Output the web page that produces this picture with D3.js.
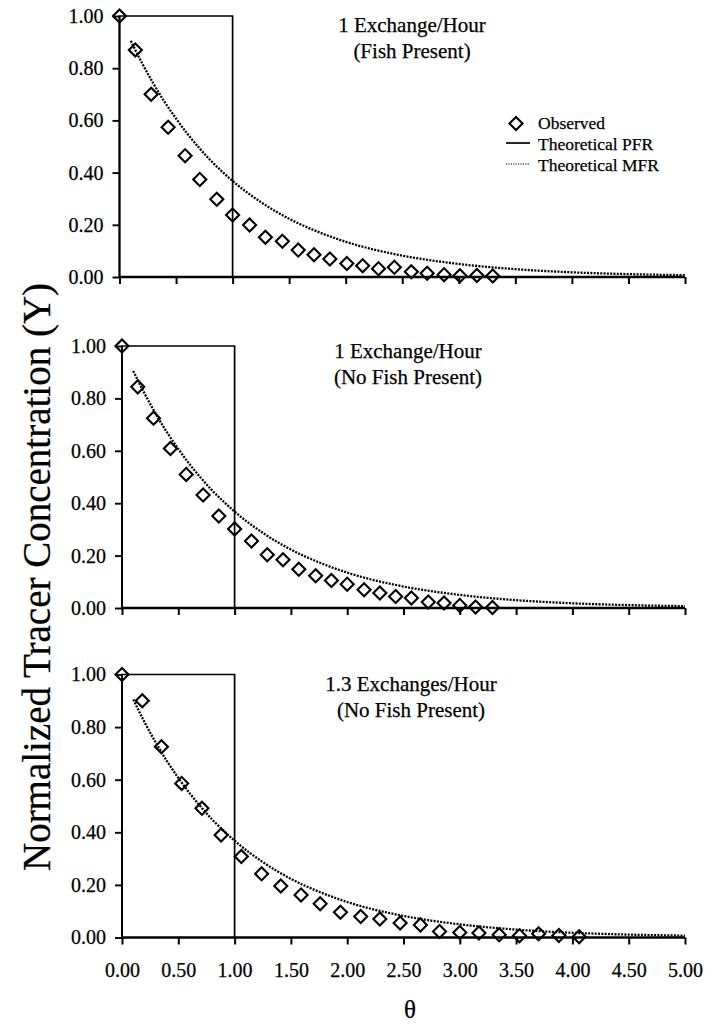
<!DOCTYPE html>
<html><head><meta charset="utf-8">
<script src="https://cdn.jsdelivr.net/npm/d3@7"></script>
<style>
html,body{margin:0;padding:0;background:#fff;}
svg text{font-family:"Liberation Serif","Times New Roman",serif;fill:#000;stroke:#000;stroke-width:0.25px;}
</style>
</head><body>
<svg id="chart" width="705" height="1024"></svg>
<script>
// ---- data ----
const theta1 = [0,0.14,0.28,0.43,0.58,0.71,0.86,1.00,1.15,1.29,1.44,1.58,1.72,1.86,2.01,2.15,2.29,2.43,2.58,2.72,2.87,3.01,3.16,3.30];
const obs1   = [1.00,0.87,0.70,0.574,0.465,0.374,0.298,0.238,0.199,0.152,0.137,0.103,0.085,0.069,0.052,0.043,0.032,0.037,0.020,0.014,0.009,0.005,0.006,0.004];
const theta2 = [0,0.14,0.28,0.43,0.57,0.72,0.86,1.00,1.15,1.29,1.43,1.57,1.72,1.86,2.00,2.15,2.29,2.43,2.57,2.72,2.86,3.00,3.14,3.29];
const obs2   = [1.00,0.844,0.724,0.609,0.510,0.431,0.351,0.302,0.256,0.203,0.184,0.148,0.123,0.105,0.091,0.070,0.057,0.044,0.038,0.023,0.019,0.010,0.004,0.002];
const theta3 = [0,0.18,0.35,0.53,0.71,0.88,1.06,1.24,1.41,1.59,1.76,1.94,2.12,2.29,2.47,2.65,2.82,3.00,3.17,3.35,3.53,3.70,3.88,4.06];
const obs3   = [1.00,0.90,0.725,0.586,0.491,0.390,0.308,0.242,0.196,0.162,0.128,0.096,0.080,0.070,0.055,0.048,0.023,0.019,0.017,0.010,0.007,0.014,0.008,0.003];
// theoretical curves
const mfrTheta = [0.1,0.2,0.3,0.4,0.5,0.6,0.7,0.8,0.9,1.0,1.25,1.5,1.75,2.0,2.5,3.0,3.5,4.0,4.5,5.0];
const mfrY     = [0.905,0.819,0.741,0.670,0.607,0.549,0.497,0.449,0.407,0.368,0.287,0.223,0.174,0.135,0.082,0.050,0.030,0.018,0.011,0.007];
const pfrTheta = [0,0,1,1];
const pfrY     = [0,1,1,0];
const panelTitles = [["1 Exchange/Hour","(Fish Present)"],["1 Exchange/Hour","(No Fish Present)"],["1.3 Exchanges/Hour","(No Fish Present)"]];
const xTicks = [0,0.5,1,1.5,2,2.5,3,3.5,4,4.5,5];
const yTicks = [0,0.2,0.4,0.6,0.8,1.0];
const legendLabels = ["Observed","Theoretical PFR","Theoretical MFR"];

// ---- layout ----
const svg = d3.select("#chart");
const panels = [
  {theta: theta1, obs: obs1, x0:119.5, y0:277, y1:16,  title:[412,32,58]},
  {theta: theta2, obs: obs2, x0:122,   y0:608, y1:346, title:[408,357.5,383.5]},
  {theta: theta3, obs: obs3, x0:122,   y0:937.5, y1:674.5, title:[411,690.5,716.5]}
];
const xEnd = 685;
const diamondPath = d3.symbol().type(d3.symbolSquare).size(85);

panels.forEach((p, i) => {
  const x = d3.scaleLinear().domain([0,5]).range([p.x0, xEnd]);
  const y = d3.scaleLinear().domain([0,1]).range([p.y0, p.y1]);
  const g = svg.append("g");

  // MFR dotted curve
  const mfr = mfrTheta.map((t,k)=>[t,mfrY[k]]);
  g.append("path").datum(mfr)
    .attr("d", d3.line().x(d=>x(d[0])).y(d=>y(d[1])).curve(d3.curveMonotoneX))
    .attr("fill","none").attr("stroke","#000").attr("stroke-width",2.3)
    .attr("stroke-dasharray","2,1.3");

  // PFR
  const pfr = pfrTheta.map((t,k)=>[t,pfrY[k]]);
  g.append("path").datum(pfr)
    .attr("d", d3.line().x(d=>x(d[0])).y(d=>y(d[1])))
    .attr("fill","none").attr("stroke","#000").attr("stroke-width",1.7);

  // axes
  const xa = g.append("g").attr("transform",`translate(0,${p.y0})`)
    .call(d3.axisBottom(x).tickValues(xTicks).tickSize(7).tickPadding(18)
      .tickFormat(i===2 ? d3.format(".2f") : ()=>""));
  xa.select(".domain").attr("stroke-width",2.4).attr("d",`M${p.x0},0H${xEnd}`);
  xa.selectAll(".tick line").attr("stroke-width",2);
  xa.selectAll("text").attr("font-size",20).attr("font-family","Liberation Serif");

  const ya = g.append("g").attr("transform",`translate(${p.x0},0)`)
    .call(d3.axisLeft(y).tickValues(yTicks).tickSize(7).tickPadding(9).tickFormat(d3.format(".2f")));
  ya.select(".domain").attr("stroke-width",1.9).attr("d",`M0,${p.y0}V${p.y1}`);
  ya.selectAll(".tick line").attr("stroke-width",1.9);
  ya.selectAll("text").attr("font-size",20).attr("font-family","Liberation Serif");

  // observed
  const pts = p.theta.map((t,k)=>[t,p.obs[k]]);
  g.selectAll(".pt").data(pts).enter().append("path")
    .attr("transform", d=>`translate(${x(d[0])},${y(d[1])}) rotate(45)`)
    .attr("d", diamondPath)
    .attr("fill","none").attr("stroke","#000").attr("stroke-width",2.1);

  // titles
  g.append("text").attr("x",p.title[0]).attr("y",p.title[1]).attr("text-anchor","middle")
    .attr("font-size",21).text(panelTitles[i][0]);
  g.append("text").attr("x",p.title[0]).attr("y",p.title[2]).attr("text-anchor","middle")
    .attr("font-size",21).text(panelTitles[i][1]);
});

// legend
const lg = svg.append("g");
lg.append("path").attr("transform","translate(516,123.5) rotate(45)")
  .attr("d", diamondPath)
  .attr("fill","none").attr("stroke","#000").attr("stroke-width",2.1);
lg.append("line").attr("x1",506).attr("x2",530).attr("y1",143).attr("y2",143)
  .attr("stroke","#000").attr("stroke-width",1.7);
lg.append("line").attr("x1",506).attr("x2",530).attr("y1",164).attr("y2",164)
  .attr("stroke","#000").attr("stroke-width",1.2).attr("stroke-dasharray","1.2,1.2");
[129,150,171].forEach((yy,k)=>{
  lg.append("text").attr("x",538).attr("y",yy).attr("font-size",17.5).text(legendLabels[k]);
});

// axis titles
svg.append("text").attr("transform","translate(50,577) rotate(-90)")
  .attr("text-anchor","middle").attr("font-size",39)
  .text("Normalized Tracer Concentration (Y)");
svg.append("text").attr("x",410).attr("y",1018).attr("text-anchor","middle")
  .attr("font-size",25).text("θ");
</script>
</body></html>
